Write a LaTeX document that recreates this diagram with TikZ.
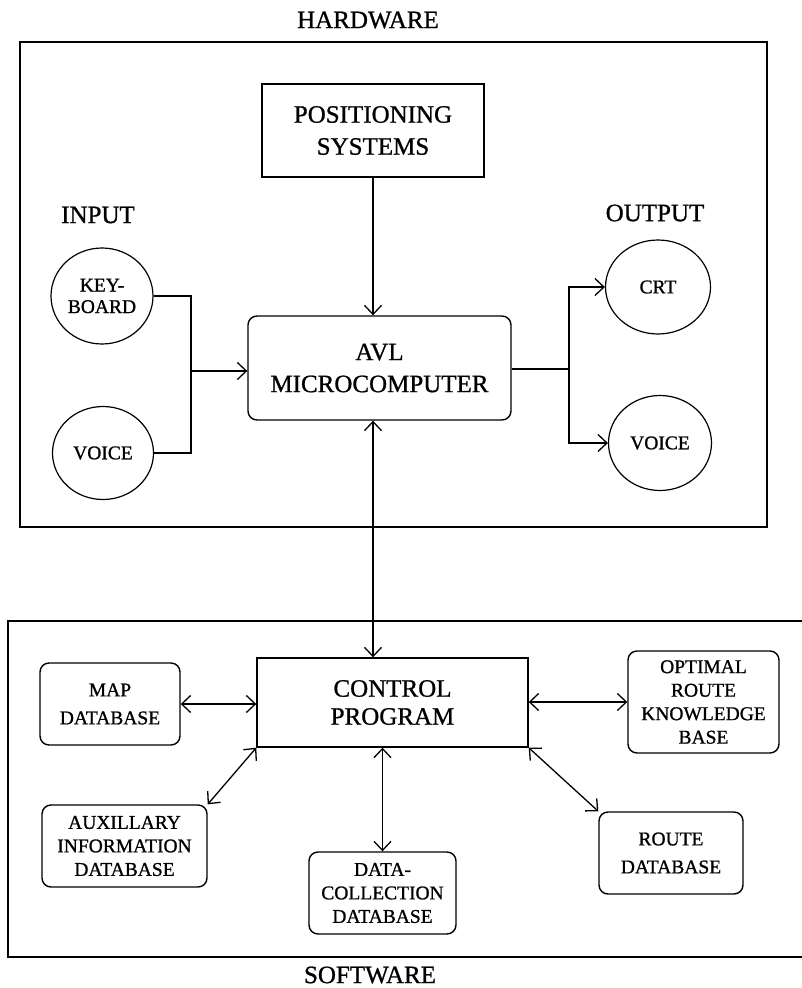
\documentclass[tikz,border=0pt]{standalone}
\usepackage{fontspec}
\setmainfont{Liberation Serif}[FakeBold=0.9]
\usetikzlibrary{arrows.meta,shapes.geometric}
\begin{document}
\begin{tikzpicture}[x=1pt,y=-1pt,
  big/.style={font=\fontsize{25}{32}\selectfont},
  small/.style={font=\fontsize{19.5}{23.5}\selectfont},
  smallwide/.style={font=\fontsize{19.5}{28}\selectfont},
  frame/.style={draw,line width=1.5pt,inner sep=0,minimum width=#1},
  sqbox/.style={draw,line width=1.4pt,inner sep=0,align=center},
  rbox/.style={sqbox,rounded corners=9pt},
  circ/.style={draw,ellipse,inner sep=0,align=center,line width=1.2pt},
  conn/.style={line width=1.3pt},
  arr/.style={conn,-{Straight Barb[length=9pt,width=17pt]}},
  darr/.style={conn,{Straight Barb[length=9pt,width=17pt]}-{Straight Barb[length=9pt,width=17pt]}}]
\useasboundingbox (0,0) rectangle (801,988);

% hardware
\node[big] (hwlabel) at (368,20) {HARDWARE};
\node[frame=747pt,minimum height=485pt] (hw) at (393.5,284.5) {};
\node[sqbox,big,minimum width=222pt,minimum height=93pt] (pos) at (373,130.5) {POSITIONING\\SYSTEMS};
\node[rbox,big,minimum width=263pt,minimum height=104pt] (avl) at (379.5,368) {AVL\\MICROCOMPUTER};
\node[big] (inlabel) at (98,215) {INPUT};
\node[big] (outlabel) at (655,213) {OUTPUT};
\node[circ,small,minimum width=102pt,minimum height=96pt] (kb) at (102,296) {KEY-\\[-2pt]BOARD};
\node[circ,small,minimum width=101pt,minimum height=93pt] (vin) at (103,453) {VOICE};
\node[circ,small,minimum width=105pt,minimum height=94pt] (crt) at (658,287) {CRT};
\node[circ,small,minimum width=103pt,minimum height=95pt] (vout) at (660,443) {VOICE};

\coordinate (jin) at (191,371);
\draw[conn] (kb.east) -| (jin) |- (vin.east);
\draw[arr] (jin) -- (avl.west |- jin);
\coordinate (jout) at (569,369);
\draw[conn] (avl.east |- jout) -- (jout);
\draw[arr] (jout) |- (crt.west);
\draw[arr] (jout) |- (vout.west);
\draw[arr] (pos.south) -- (pos.south |- avl.north);

% software
\node[frame=802pt,minimum height=336pt] (sw) at (409,789) {};
\node[big] (swlabel) at (370,975) {SOFTWARE};
\node[sqbox,big,font=\fontsize{25}{28}\selectfont,minimum width=271pt,minimum height=89pt] (ctrl) at (392.5,702.5) {CONTROL\\PROGRAM};
\node[rbox,smallwide,minimum width=140pt,minimum height=82pt] (map) at (110,704) {MAP\\DATABASE};
\node[rbox,small,minimum width=151pt,minimum height=102pt] (opt) at (703.5,702) {OPTIMAL\\ROUTE\\KNOWLEDGE\\BASE};
\node[rbox,small,minimum width=165pt,minimum height=82pt] (aux) at (124.5,846) {AUXILLARY\\INFORMATION\\DATABASE};
\node[rbox,small,minimum width=147pt,minimum height=82pt] (data) at (382.5,893) {DATA-\\COLLECTION\\DATABASE};
\node[rbox,smallwide,minimum width=144pt,minimum height=82pt] (route) at (671,853) {ROUTE\\DATABASE};

\coordinate (bus) at (373,0);
\draw[darr] (avl.south -| bus) -- (ctrl.north -| bus);
\draw[darr] (map.east) -- (ctrl.west |- map.east);
\draw[darr] (ctrl.east |- opt.west) -- (opt.west);
\draw[darr] (ctrl.south west) -- (aux.north east);
\draw[darr] (ctrl.south -| data.north) -- (data.north);
\draw[darr] (ctrl.south east) -- (route.north west);
\end{tikzpicture}
\end{document}
